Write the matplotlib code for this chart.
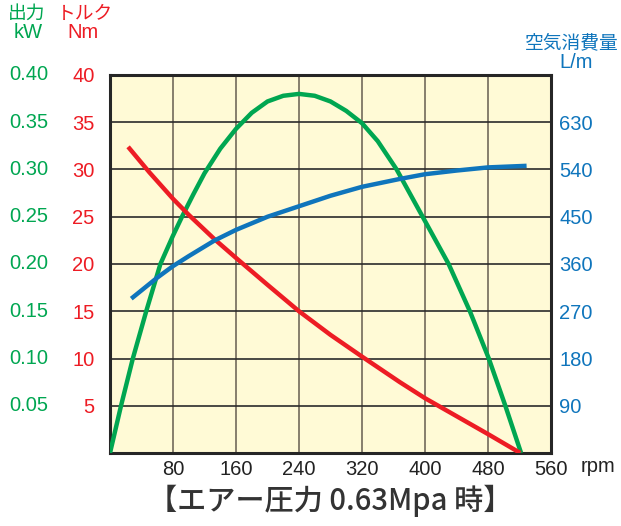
import matplotlib
matplotlib.use('Agg')
import matplotlib.pyplot as plt

# 回転数に対する出力・トルク・空気消費量
torque_rpm = [23, 50, 80, 100, 133, 162, 200, 240, 280, 320, 368, 400, 440, 480, 521]
torque_nm = [32.4, 29.7, 26.9, 25.2, 22.6, 20.5, 17.8, 15.0, 12.5, 10.2, 7.5, 5.8, 3.9, 2.0, 0.0]

power_rpm = [0, 14, 29, 46, 64, 80, 92, 106, 120, 140, 160, 180, 200, 220, 240,
             260, 280, 300, 320, 340, 364, 397, 430, 457, 481, 502, 522]
power_kw = [0.0, 0.05, 0.10, 0.15, 0.20, 0.23, 0.251, 0.274, 0.296, 0.322, 0.343, 0.360, 0.372, 0.378, 0.380,
            0.378, 0.372, 0.362, 0.349, 0.330, 0.30, 0.25, 0.20, 0.15, 0.10, 0.05, 0.0]

air_rpm = [27, 60, 80, 100, 133, 160, 200, 240, 280, 320, 368, 400, 440, 480, 529]
air_lpm = [294, 334, 356, 375, 405, 425, 450, 470, 490, 507, 522, 531, 538, 544, 547]

rpm_ticks = [80, 160, 240, 320, 400, 480, 560]
torque_ticks = [5, 10, 15, 20, 25, 30, 35, 40]
power_labels = ['0.05', '0.10', '0.15', '0.20', '0.25', '0.30', '0.35', '0.40']
air_ticks = [90, 180, 270, 360, 450, 540, 630]

# 色・フォント
green = '#00a651'
red = '#ed1c24'
blue = '#0f75bc'
num_font = 'Liberation Sans'
jp_font = ['Noto Sans CJK JP', 'DejaVu Sans']
fs = 14.5

fig = plt.figure(figsize=(6.21, 5.26), dpi=100)
ax = fig.add_axes([110 / 621, 1 - 453 / 526, 441 / 621, 378 / 526])
ax.set_facecolor('#fffad6')
ax.set_xlim(0, 560)
ax.set_ylim(0, 40)

# グリッド
for x in rpm_ticks[:-1]:
    ax.axvline(x, color='#7d7565', lw=1.3, zorder=1)
for y in torque_ticks[:-1]:
    ax.axhline(y, color='#2b2b2b', lw=1.2, zorder=1)

for s in ax.spines.values():
    s.set_linewidth(2.2)
    s.set_color('#262626')

# 左軸（トルク）
ax.set_yticks(torque_ticks)
ax.set_yticklabels([str(t) for t in torque_ticks], color=red, fontsize=fs, fontname=num_font)
ax.tick_params(axis='y', length=0, pad=11)

# 横軸
ax.set_xticks(rpm_ticks)
ax.set_xticklabels([str(r) for r in rpm_ticks], fontsize=fs, fontname=num_font, color='#222222')
ax.tick_params(axis='x', length=0, pad=5)

# 出力の目盛（緑）
for y, lab in zip(torque_ticks, power_labels):
    ax.text(-62 / 441 * 560, y, lab, color=green, fontsize=fs, fontname=num_font,
            ha='right', va='center', clip_on=False)

# 右軸（空気消費量）
ax2 = ax.twinx()
ax2.set_ylim(0, 720)
ax2.set_yticks(air_ticks)
ax2.set_yticklabels([str(a) for a in air_ticks], color=blue, fontsize=fs, fontname=num_font)
ax2.tick_params(axis='y', length=0, pad=6)
for s in ax2.spines.values():
    s.set_visible(False)

# 曲線
line_kw = dict(lw=3.2, zorder=3, solid_capstyle='butt', solid_joinstyle='round')
ax.plot(power_rpm, [p * 100 for p in power_kw], color=green, **line_kw)
ax.plot(torque_rpm, torque_nm, color=red, **line_kw)
ax2.plot(air_rpm, air_lpm, color=blue, **line_kw)

# 見出し
fig.text(27 / 621, 1 - 13 / 526, '出力', color=green, fontsize=13.5, family=jp_font, ha='center', va='center')
fig.text(28 / 621, 1 - 32 / 526, 'kW', color=green, fontsize=fs, fontname=num_font, ha='center', va='center')
fig.text(85 / 621, 1 - 13 / 526, 'トルク', color=red, fontsize=13.5, family=jp_font, ha='center', va='center')
fig.text(83 / 621, 1 - 32 / 526, 'Nm', color=red, fontsize=fs, fontname=num_font, ha='center', va='center')
fig.text(572 / 621, 1 - 43 / 526, '空気消費量', color=blue, fontsize=13.5, family=jp_font, ha='center', va='center')
fig.text(576 / 621, 1 - 63 / 526, 'L/m', color=blue, fontsize=fs, fontname=num_font, ha='center', va='center')
fig.text(598 / 621, 1 - 467 / 526, 'rpm', color='#222222', fontsize=fs, fontname=num_font, ha='center', va='center')

# タイトル
fig.text(330 / 621, 1 - 501 / 526, '【エアー圧力 0.63Mpa 時】', color='#333333', fontsize=21,
         family=jp_font, weight='medium', ha='center', va='center')

fig.savefig('out.png', dpi=100)
